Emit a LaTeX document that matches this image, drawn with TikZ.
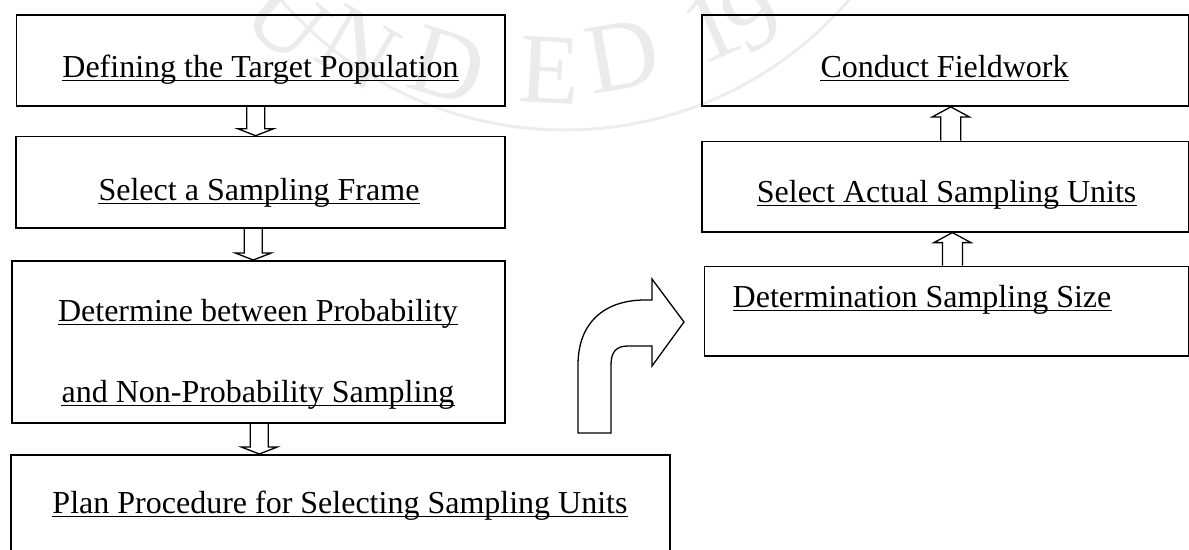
\documentclass[tikz,border=0pt]{standalone}
\usepackage{fontspec}
\setmainfont{Liberation Serif}
\usetikzlibrary{calc}
\tikzset{
  box/.style={draw, line width=1.6pt, rectangle, inner sep=0pt, anchor=north west},
  lbl/.style={font=\fontsize{32}{38}\selectfont, inner sep=0pt, anchor=base},
  ul/.style={line width=1.6pt},
  barrow/.style={draw, line width=1.3pt, line join=miter},
  wm/.style={draw=black!7, line width=3pt},
  wmletter/.style={text=black!8, font=\fontsize{100}{100}\selectfont, inner sep=0pt}
}
\newcommand\blockdown[2]{%
  \draw[barrow] let \p1=#1, \p2=#2 in
    (\x1-9,\y1) -- (\x1-9,\y2+7) -- (\x1-18,\y2+7) -- (\x1,\y2) -- (\x1+18,\y2+7) -- (\x1+9,\y2+7) -- (\x1+9,\y1);}
\newcommand\blockup[2]{%
  \draw[barrow] let \p1=#1, \p2=#2 in
    (\x1-10,\y1) -- (\x1-10,\y2-10) -- (\x1-18.5,\y2-10) -- (\x1,\y2) -- (\x1+18.5,\y2-10) -- (\x1+10,\y2-10) -- (\x1+10,\y1);}
\newcommand\uline[1]{\draw[ul] ([yshift=-3.5pt]#1.base west) -- ([yshift=-3.5pt]#1.base east);}
\begin{document}
\begin{tikzpicture}[x=1pt,y=-1pt]
\useasboundingbox (0,0) rectangle (1189,549);
\clip (0,0) rectangle (1189,549);
% watermark
\draw[wm] (565,-245) circle[radius=375pt];
\node[wmletter, rotate=-40] (w1) at (287,20) {U};
\node[wmletter, rotate=-30] (w2) at (358,48) {N};
\node[wmletter, rotate=-17] (w3) at (448,66) {D};
\node[wmletter, rotate=-3] (w4) at (550,70) {E};
\node[wmletter, rotate=10] (w5) at (622,56) {D};
\node[wmletter, rotate=24] (w6) at (711,26) {1};
\node[wmletter, rotate=30] (w7) at (752,16) {9};
% left column boxes
\node[box, minimum width=488.3pt, minimum height=91pt] (b1) at (15.7,14.3) {};
\node[box, minimum width=489pt, minimum height=91.3pt] (b2) at (15,135.7) {};
\node[box, minimum width=493pt, minimum height=162pt] (b3) at (11,260) {};
\node[box, minimum width=659pt, minimum height=130pt] (b4) at (10,454) {};
% right column boxes
\node[box, minimum width=486.4pt, minimum height=91pt] (r1) at (701.3,14.3) {};
\node[box, minimum width=486.4pt, minimum height=90.3pt] (r2) at (701.3,140.7) {};
\node[box, minimum width=484.2pt, minimum height=89.3pt] (r3) at (703.5,265.7) {};
% texts
\node[lbl] (t1) at (260.5,77) {Defining the Target Population};
\node[lbl] (t2) at (259,200) {Select a Sampling Frame};
\node[lbl] (t3a) at (258,321) {Determine between Probability};
\node[lbl] (t3b) at (258,402) {and Non-Probability Sampling};
\node[lbl] (t4) at (340,513) {Plan Procedure for Selecting Sampling Units};
\node[lbl] (s1) at (944.5,77) {Conduct Fieldwork};
\node[lbl] (s2) at (946.6,202) {Select Actual Sampling Units};
\node[lbl] (s3) at (922,307) {Determination Sampling Size};
\uline{t1}\uline{t2}\uline{t3a}\uline{t3b}\uline{t4}\uline{s1}\uline{s2}\uline{s3}
% block arrows
\blockdown{([xshift=-5pt]b1.south)}{([xshift=-5pt]b2.north)}
\blockdown{([xshift=-7pt]b2.south)}{([xshift=-7pt]b3.north)}
\blockdown{([xshift=1pt]b3.south)}{([xshift=1pt]b4.north)}
\blockup{([xshift=5.5pt]r2.north)}{([xshift=5.5pt]r1.south)}
\blockup{([xshift=6pt]r3.north)}{([xshift=6pt]r2.south)}
% curved arrow
\draw[barrow] (578,433) -- (578,365) .. controls (578,322) and (605,300) .. (645,300)
  -- (652,300) -- (652,279) -- (684,322) -- (652,366) -- (652,346) -- (628,346)
  .. controls (616,346) and (611,352) .. (611,365) -- (611,433) -- cycle;
\end{tikzpicture}
\end{document}
